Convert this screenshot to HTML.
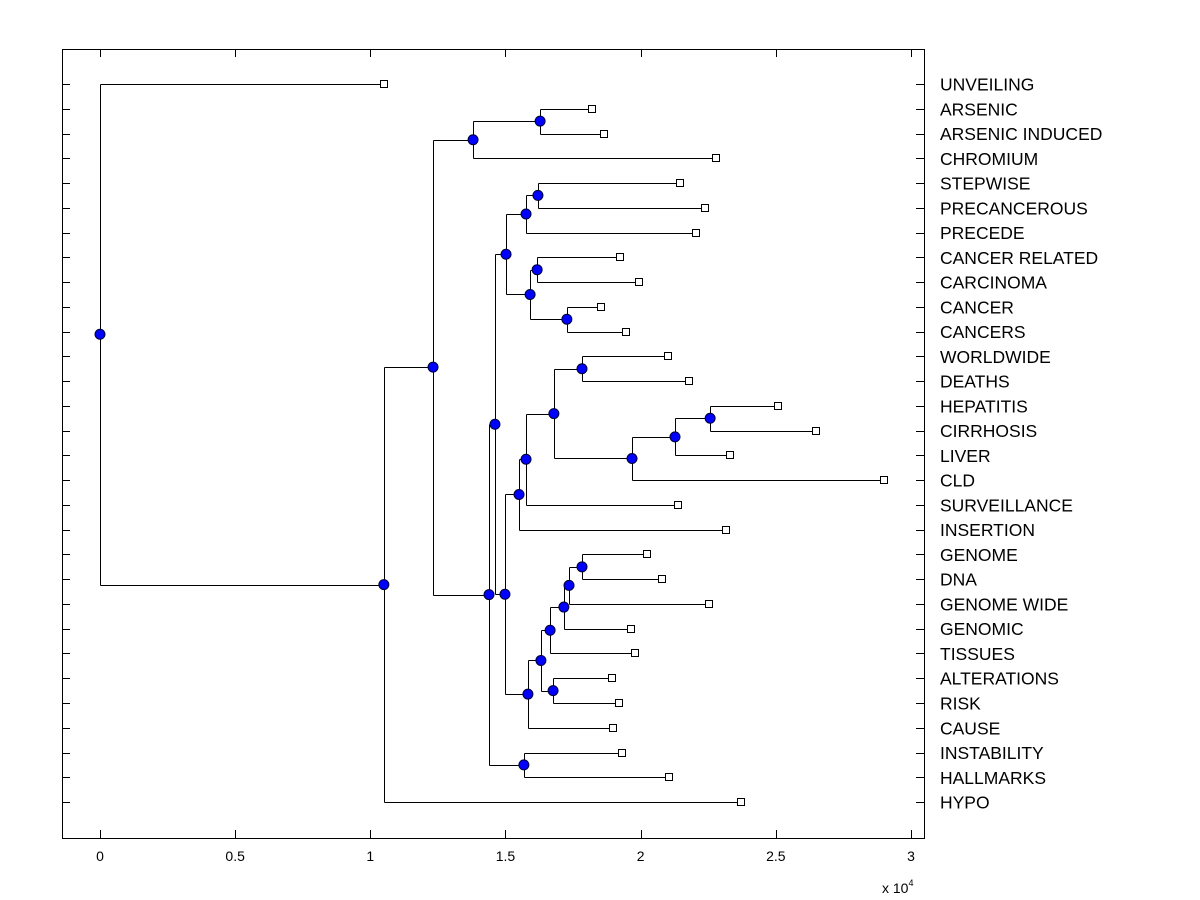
<!DOCTYPE html>
<html><head><meta charset="utf-8"><style>
html,body{margin:0;padding:0;background:#fff;}
svg{display:block;font-family:"Liberation Sans",Arial,sans-serif;}
</style></head><body>
<svg id="chart" width="1200" height="900" viewBox="0 0 1200 900" xmlns="http://www.w3.org/2000/svg">
<rect x="0" y="0" width="1200" height="900" fill="#fff"/>
<rect x="62.5" y="49.5" width="862" height="789" fill="none" stroke="#000" stroke-width="1"/>
<g id="ticks"></g>
<g id="links"></g>
<g id="nodes"></g>
<g id="labels"></g>
<text x="882" y="893" font-size="14">x 10<tspan font-size="9" dy="-7">4</tspan></text>
</svg>
<script>
const leafNames = ["UNVEILING","ARSENIC","ARSENIC INDUCED","CHROMIUM","STEPWISE","PRECANCEROUS","PRECEDE","CANCER RELATED","CARCINOMA","CANCER","CANCERS","WORLDWIDE","DEATHS","HEPATITIS","CIRRHOSIS","LIVER","CLD","SURVEILLANCE","INSERTION","GENOME","DNA","GENOME WIDE","GENOMIC","TISSUES","ALTERATIONS","RISK","CAUSE","INSTABILITY","HALLMARKS","HYPO"];
const leafValues = [1.05,1.82,1.864,2.279,2.146,2.238,2.205,1.924,1.994,1.853,1.946,2.101,2.179,2.508,2.649,2.330,2.900,2.138,2.316,2.023,2.079,2.253,1.964,1.979,1.894,1.920,1.898,1.931,2.105,2.371];
const mergeLeft  = [1,30,4,32,7,9,34,33,11,13,39,40,38,42,43,19,45,46,47,24,48,50,27,44,37,54,31,56,0];
const mergeRight = [2,3,5,6,8,10,35,36,12,14,15,16,41,17,18,20,21,22,23,25,49,26,28,51,53,52,55,29,57];
const mergeHeights = [1.628,1.380,1.620,1.576,1.617,1.727,1.591,1.502,1.783,2.257,2.127,1.968,1.679,1.576,1.550,1.783,1.735,1.716,1.665,1.676,1.631,1.583,1.568,1.498,1.461,1.439,1.232,1.050,0];
const xTicks = [0,0.5,1,1.5,2,2.5,3];
const xTickLabels = ["0","0.5","1","1.5","2","2.5","3"];

const NS="http://www.w3.org/2000/svg";
const xs = v => 100 + v*270.33;
const ys = i => 84 + i*24.76;
function mk(tag, attrs, parent){const e=document.createElementNS(NS,tag);for(const k in attrs)e.setAttribute(k,attrs[k]);parent.appendChild(e);return e;}
const gT=document.getElementById('ticks'), gL=document.getElementById('links'), gN=document.getElementById('nodes'), gLab=document.getElementById('labels');

xTicks.forEach((t,i)=>{
  const x=Math.round(xs(t))+0.5;
  let l=mk('line',{x1:x,x2:x,y1:838,y2:830,stroke:'#000'},gT);
  
  
  l=mk('line',{x1:x,x2:x,y1:49,y2:57,stroke:'#000'},gT);
  
  
  const tx=mk('text',{x:xs(t),y:861,'font-size':14,'text-anchor':'middle'},gT);
  tx.textContent=xTickLabels[i];
  
  
});

const px=[], py=[];
leafNames.forEach((n,i)=>{px[i]=leafValues[i]; py[i]=ys(i);});
mergeHeights.forEach((h,k)=>{const id=leafNames.length+k;px[id]=h;py[id]=(py[mergeLeft[k]]+py[mergeRight[k]])/2;});

leafNames.forEach((n,i)=>{
  const y=Math.round(py[i])+0.5;
  let l=mk('line',{x1:62,x2:70,y1:y,y2:y,stroke:'#000'},gT);
  
  
  l=mk('line',{x1:916,x2:924,y1:y,y2:y,stroke:'#000'},gT);
  
  
  const t=mk('text',{x:940,y:py[i]+6.5,'font-size':17.5},gLab);
  t.textContent=n;
  
  
});

mergeHeights.forEach((h,k)=>{
  const X=Math.round(xs(h))+0.5;
  const a=mergeLeft[k], b=mergeRight[k];
  let d=`M${X},${Math.round(py[a])+0.5}V${Math.round(py[b])+0.5}`;
  [a,b].forEach(c=>{d+=`M${X},${Math.round(py[c])+0.5}H${Math.round(xs(px[c]))+0.5}`;});
  const p=mk('path',{d:d,fill:'none',stroke:'#000','stroke-width':1},gL);
  
  
});

leafNames.forEach((n,i)=>{
  const r=mk('rect',{x:Math.round(xs(px[i]))-3.5,y:Math.round(py[i])-3.5,width:7,height:7,fill:'#fff',stroke:'#000'},gN);
  
  
});
mergeHeights.forEach((h,k)=>{
  const id=leafNames.length+k;
  const c=mk('circle',{cx:xs(h),cy:py[id],r:5,fill:'#0000ff',stroke:'#000033','stroke-width':1},gN);
  
  
});
</script>
</body></html>
